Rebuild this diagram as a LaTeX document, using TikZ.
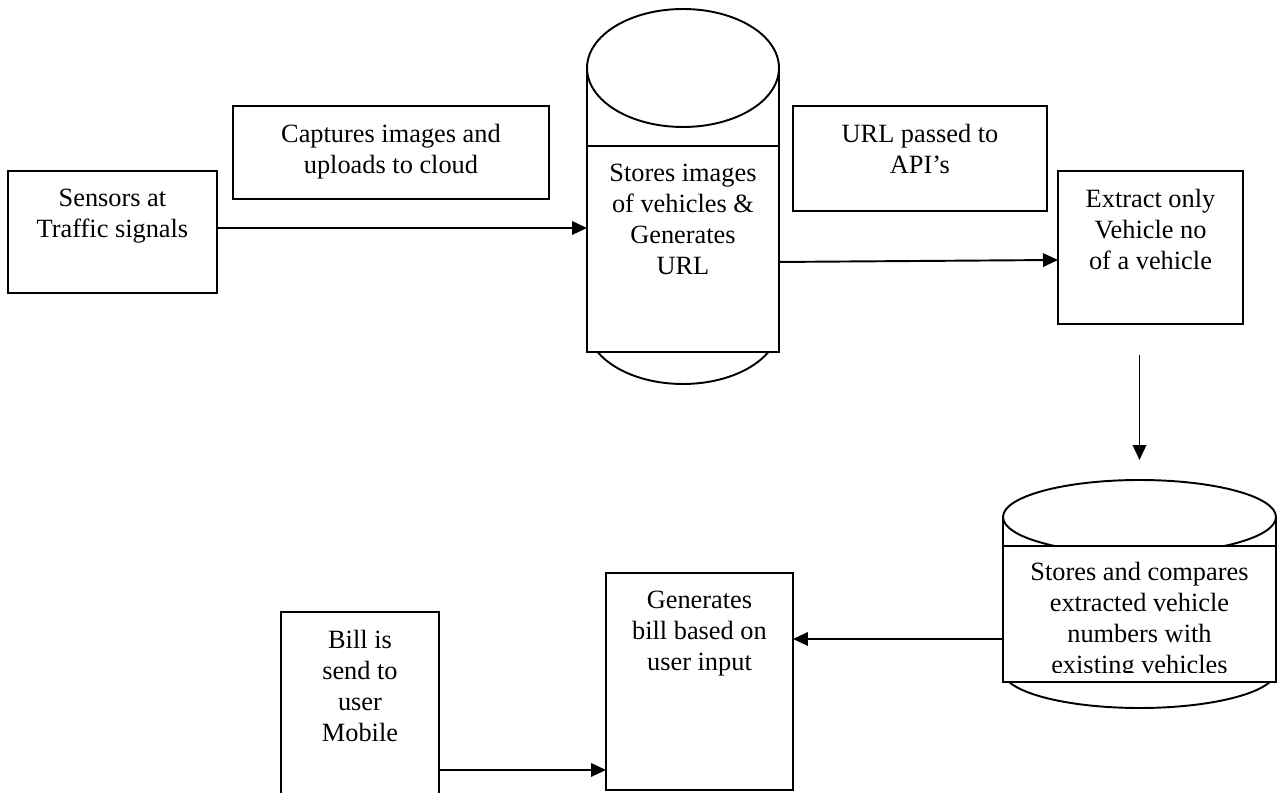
\documentclass[tikz,border=0pt]{standalone}
\usepackage{fontspec}
\setmainfont{Liberation Serif}
\usetikzlibrary{arrows.meta,shapes.geometric}
\begin{document}
\begin{tikzpicture}[x=0.02cm,y=-0.02cm,
  line width=1.1pt,
  box/.style={draw,rectangle,inner sep=0pt,outer sep=0pt,anchor=north west,fill=white},
  lid/.style={draw,ellipse,inner sep=0pt,outer sep=0pt,fill=white},
  txt/.style={align=center,inner sep=0pt,anchor=north,font=\fontsize{15}{17.6}\selectfont},
  arr/.style={-{Triangle[length=0.3cm,width=0.27cm]}}]
\useasboundingbox (0,0) rectangle (1278,793);
\clip (0,0) rectangle (1278,793);

% boxes
\node[box,minimum width=4.18cm,minimum height=2.44cm] (sens) at (8,171) {};
\node[txt] at ([yshift=-0.34cm]sens.north) {Sensors at\\Traffic signals};

\node[box,minimum width=6.32cm,minimum height=1.86cm] (capt) at (233,106) {};
\node[txt] at ([yshift=-0.34cm]capt.north) {Captures images and\\uploads to cloud};

% cylinder 1
\draw (683,325) ellipse [x radius=1.92cm, y radius=1.18cm];
\node[lid,minimum width=3.84cm,minimum height=2.36cm] (c1top) at (683,68) {};
\draw (c1top.west) -- ++(0,257);
\draw (c1top.east) -- ++(0,257);
\node[box,minimum width=3.84cm,minimum height=4.12cm] (c1) at (587,146) {};
\node[txt] at ([yshift=-0.34cm]c1.north) {Stores images\\of vehicles \&\\Generates\\URL};

\node[box,minimum width=5.08cm,minimum height=2.10cm] (url) at (793,106) {};
\node[txt] at ([yshift=-0.34cm]url.north) {URL passed to\\API’s};

\node[box,minimum width=3.70cm,minimum height=3.06cm] (ext) at (1058,171) {};
\node[txt] at ([yshift=-0.34cm]ext.north) {Extract only\\Vehicle no\\of a vehicle};

% cylinder 2
\draw (1139.5,671) ellipse [x radius=2.73cm, y radius=0.74cm];
\node[lid,minimum width=5.46cm,minimum height=1.48cm] (c2top) at (1139.5,517) {};
\draw (c2top.west) -- ++(0,154);
\draw (c2top.east) -- ++(0,154);
\node[box,minimum width=5.46cm,minimum height=2.72cm] (c2) at (1003,546) {};
\begin{scope}
\clip (c2.north west) rectangle ([yshift=0.18cm]c2.south east);
\node[txt] at ([yshift=-0.30cm]c2.north) {Stores and compares\\extracted vehicle\\numbers with\\existing vehicles};
\end{scope}

\node[box,minimum width=3.74cm,minimum height=4.34cm] (gen) at (606,573) {};
\node[txt] at ([yshift=-0.34cm]gen.north) {Generates\\bill based on\\user input};

\node[box,minimum width=3.16cm,minimum height=5cm] (bill) at (281,612) {};
\node[txt] at ([yshift=-0.34cm]bill.north) {Bill is\\send to\\user\\Mobile};

% connectors
\coordinate (a1) at ([yshift=0.08cm]sens.east);
\draw[arr] (a1) -- (a1 -| c1.west);
\draw[arr] ([yshift=-0.26cm]c1.east) -- ([yshift=-0.25cm]ext.west);
\coordinate (a3) at (ext.south -| c2top.north);
\draw[arr] ([yshift=-0.62cm]a3) -- ([yshift=0.4cm]c2top.north);
\coordinate (a4) at ([yshift=-0.5cm]c2.west);
\draw[arr] (a4) -- (a4 -| gen.east);
\coordinate (a5) at ([yshift=-3.16cm]bill.north east);
\draw[arr] (a5) -- (a5 -| gen.west);
\end{tikzpicture}
\end{document}
